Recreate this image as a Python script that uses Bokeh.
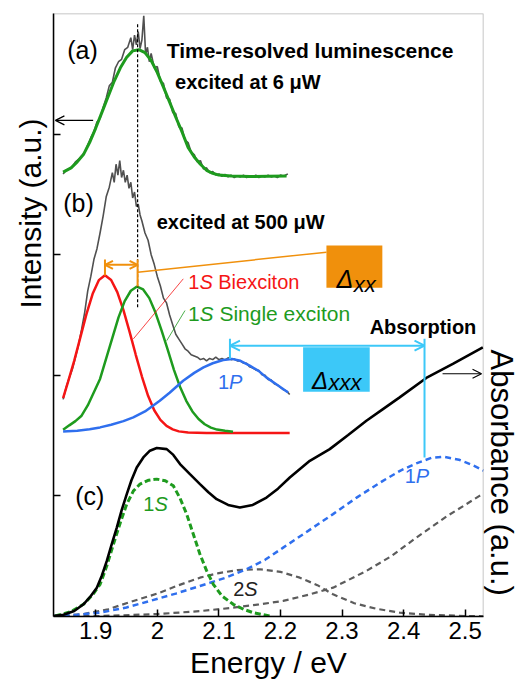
import math
from bokeh.plotting import figure
from bokeh.models import Label, Arrow, OpenHead, BoxAnnotation, Title
from bokeh.embed import file_html
from bokeh.resources import INLINE

# ---------------- data ----------------
x_ticks = [1.9, 2.0, 2.1, 2.2, 2.3, 2.4, 2.5]
y_ticks = [1, 2, 3, 4]

# (a) time-resolved luminescence, 6 uW : raw (noisy) + fit
lum_a_E = [1.847, 1.852, 1.857, 1.862, 1.867, 1.872, 1.877, 1.882, 1.887, 1.892,
           1.897, 1.902, 1.907, 1.912, 1.917, 1.922, 1.927, 1.932, 1.937, 1.942,
           1.947, 1.952, 1.957, 1.960, 1.963, 1.966, 1.969, 1.972, 1.975, 1.978,
           1.981, 1.984, 1.987, 1.990, 1.995, 2.000, 2.005, 2.010, 2.015, 2.020,
           2.025, 2.030, 2.035, 2.040, 2.045, 2.050, 2.055, 2.060, 2.065, 2.070,
           2.075, 2.080, 2.085, 2.090, 2.095, 2.100, 2.105, 2.110, 2.115, 2.120,
           2.125, 2.130, 2.135, 2.140, 2.145, 2.150, 2.155, 2.160, 2.165, 2.170,
           2.175, 2.180, 2.185, 2.190, 2.195, 2.200, 2.205, 2.212]
lum_a_I = [3.67, 3.70, 3.71, 3.73, 3.77, 3.79, 3.82, 3.85, 3.91, 3.97,
           4.02, 4.10, 4.13, 4.22, 4.30, 4.40, 4.43, 4.55, 4.60, 4.62,
           4.70, 4.72, 4.80, 4.70, 4.82, 4.74, 4.85, 4.71, 4.78, 4.98,
           4.66, 4.72, 4.60, 4.67, 4.55, 4.56, 4.44, 4.42, 4.30, 4.29,
           4.18, 4.17, 4.06, 4.05, 3.95, 3.93, 3.85, 3.83, 3.77, 3.78,
           3.71, 3.72, 3.68, 3.69, 3.66, 3.67, 3.65, 3.665, 3.645, 3.66,
           3.64, 3.655, 3.645, 3.66, 3.64, 3.655, 3.645, 3.66, 3.64, 3.655,
           3.645, 3.66, 3.645, 3.655, 3.64, 3.66, 3.65, 3.67]
fit_a_E = [1.847, 1.86, 1.87, 1.88, 1.89, 1.90, 1.91, 1.92, 1.93, 1.94, 1.95, 1.96,
           1.97, 1.98, 1.99, 2.00, 2.01, 2.02, 2.03, 2.04, 2.05, 2.06, 2.07, 2.08,
           2.09, 2.10, 2.12, 2.15, 2.18, 2.21]
fit_a_I = [3.685, 3.72, 3.77, 3.83, 3.93, 4.05, 4.18, 4.31, 4.44, 4.55, 4.635, 4.69,
           4.70, 4.675, 4.61, 4.51, 4.39, 4.265, 4.14, 4.02, 3.89, 3.81, 3.75, 3.70,
           3.675, 3.66, 3.652, 3.648, 3.65, 3.652]

# (b) luminescence, 500 uW : raw + components
lum_b_E = [1.847, 1.852, 1.857, 1.862, 1.867, 1.872, 1.877, 1.882, 1.887, 1.892,
           1.897, 1.902, 1.907, 1.912, 1.917, 1.922, 1.927, 1.930, 1.933, 1.936,
           1.939, 1.942, 1.945, 1.948, 1.951, 1.954, 1.957, 1.960, 1.963, 1.966,
           1.969, 1.972, 1.975, 1.980, 1.985, 1.990, 1.995, 2.000, 2.005, 2.010,
           2.015, 2.020, 2.025, 2.030, 2.035, 2.040, 2.045, 2.050, 2.055, 2.060,
           2.065, 2.070, 2.075, 2.080, 2.085, 2.090, 2.095, 2.100, 2.105, 2.110,
           2.115, 2.120, 2.125, 2.130, 2.135, 2.140, 2.145, 2.150, 2.155, 2.160,
           2.165, 2.170, 2.175, 2.180, 2.185, 2.190, 2.195, 2.200, 2.205, 2.210, 2.215]
lum_b_I = [1.80, 1.90, 1.98, 2.05, 2.15, 2.25, 2.38, 2.52, 2.70, 2.82,
           2.96, 3.05, 3.18, 3.32, 3.48, 3.56, 3.68, 3.60, 3.75, 3.66,
           3.78, 3.64, 3.70, 3.60, 3.66, 3.55, 3.60, 3.47, 3.52, 3.40,
           3.42, 3.33, 3.28, 3.18, 3.12, 3.00, 2.92, 2.82, 2.74, 2.64,
           2.60, 2.50, 2.42, 2.34, 2.30, 2.26, 2.22, 2.20, 2.17, 2.16,
           2.15, 2.13, 2.14, 2.12, 2.14, 2.13, 2.15, 2.13, 2.14, 2.125,
           2.145, 2.13, 2.135, 2.12, 2.12, 2.10, 2.10, 2.07, 2.06, 2.045,
           2.04, 2.005, 2.00, 1.965, 1.96, 1.93, 1.92, 1.90, 1.88, 1.87, 1.84]
biex_E = [1.847, 1.855, 1.865, 1.875, 1.885, 1.895, 1.905, 1.915, 1.925, 1.935,
          1.945, 1.955, 1.965, 1.975, 1.985, 1.995, 2.005, 2.015, 2.025, 2.035,
          2.05, 2.08, 2.12, 2.16, 2.215]
biex_I = [1.81, 1.946, 2.12, 2.315, 2.509, 2.676, 2.789, 2.83, 2.79, 2.69,
          2.54, 2.36, 2.17, 1.99, 1.83, 1.71, 1.63, 1.58, 1.552, 1.535,
          1.526, 1.521, 1.521, 1.521, 1.521]
sx_E = [1.847, 1.857, 1.867, 1.877, 1.887, 1.897, 1.907, 1.917, 1.927, 1.937,
        1.947, 1.957, 1.967, 1.977, 1.987, 1.997, 2.007, 2.017, 2.027, 2.037,
        2.047, 2.057, 2.067, 2.077, 2.087, 2.097, 2.11, 2.123]
sx_I = [1.548, 1.585, 1.62, 1.665, 1.75, 1.86, 1.97, 2.14, 2.31, 2.48,
        2.615, 2.701, 2.736, 2.712, 2.64, 2.52, 2.37, 2.21, 2.045, 1.903,
        1.788, 1.70, 1.637, 1.594, 1.566, 1.55, 1.54, 1.532]
p1_E = [1.847, 1.87, 1.89, 1.907, 1.925, 1.945, 1.961, 1.98, 2.004, 2.02, 2.042,
        2.06, 2.075, 2.09, 2.107, 2.121, 2.135, 2.150, 2.165, 2.177, 2.195, 2.2125]
p1_I = [1.534, 1.54, 1.552, 1.568, 1.59, 1.62, 1.651, 1.70, 1.789, 1.855, 1.955,
        2.02, 2.066, 2.10, 2.127, 2.136, 2.12, 2.080, 2.035, 1.983, 1.92, 1.858]

# (c) absorption + components
abs_E = [1.8314, 1.8476, 1.865, 1.8801, 1.892, 1.9018, 1.91, 1.918, 1.926, 1.9342,
         1.942, 1.9504, 1.958, 1.9666, 1.9773, 1.988, 1.9991, 2.0153, 2.026, 2.0369,
         2.053, 2.0693, 2.083, 2.0964, 2.115, 2.1341, 2.155, 2.1774, 2.196, 2.2152,
         2.2477, 2.2801, 2.31, 2.3396, 2.3665, 2.3936, 2.4369, 2.48, 2.5287]
abs_A = [0.004, 0.015, 0.045, 0.101, 0.17, 0.239, 0.34, 0.461, 0.60, 0.737,
         0.88, 1.015, 1.13, 1.235, 1.319, 1.375, 1.397, 1.388, 1.34, 1.264,
         1.18, 1.098, 1.03, 0.973, 0.925, 0.903, 0.925, 0.986, 1.06, 1.152,
         1.291, 1.388, 1.505, 1.623, 1.72, 1.817, 1.978, 2.094, 2.232]
abs1s_E = [1.8342, 1.86, 1.8801, 1.895, 1.9071, 1.918, 1.9287, 1.94, 1.9504, 1.961,
           1.972, 1.986, 1.9991, 2.013, 2.026, 2.037, 2.0477, 2.058, 2.0693, 2.08,
           2.0909, 2.105, 2.1233, 2.14, 2.1557, 2.1828]
abs1s_A = [0.004, 0.04, 0.101, 0.18, 0.267, 0.42, 0.599, 0.78, 0.932, 1.04,
           1.098, 1.13, 1.139, 1.125, 1.084, 0.98, 0.849, 0.69, 0.516, 0.38,
           0.267, 0.17, 0.101, 0.06, 0.032, 0.004]
abs1p_E = [1.8314, 1.87, 1.9071, 1.95, 1.9882, 2.03, 2.0693, 2.11, 2.145, 2.175,
           2.2044, 2.245, 2.2854, 2.325, 2.3665, 2.395, 2.4207, 2.445, 2.465, 2.49,
           2.51, 2.5298]
abs1p_A = [0.004, 0.015, 0.032, 0.075, 0.129, 0.19, 0.253, 0.32, 0.392, 0.47,
           0.571, 0.71, 0.849, 0.99, 1.125, 1.21, 1.27, 1.315, 1.325, 1.30,
           1.26, 1.21]
abs2s_E = [1.8314, 1.88, 1.92, 1.9611, 2.00, 2.035, 2.0693, 2.10, 2.13, 2.1666,
           2.20, 2.2314, 2.26, 2.2854, 2.32, 2.355, 2.3936, 2.44, 2.5018, 2.5298]
abs2s_A = [0.004, 0.02, 0.06, 0.129, 0.19, 0.26, 0.322, 0.36, 0.385, 0.392,
           0.37, 0.322, 0.26, 0.184, 0.11, 0.065, 0.032, 0.014, 0.004, 0.002]
abshi_E = [1.8314, 1.9071, 2.0, 2.07, 2.1233, 2.165, 2.2044, 2.245, 2.2854, 2.3396,
           2.38, 2.4207, 2.47, 2.5233, 2.5298]
abshi_A = [0.0, 0.004, 0.02, 0.045, 0.073, 0.10, 0.129, 0.18, 0.239, 0.378,
           0.50, 0.654, 0.83, 1.0, 1.02]

# ---------------- styles ----------------
FONT = "Liberation Sans"
GREEN = "#1e9b1e"
RED = "#f51515"
BLUE = "#2f6fee"
GRAY = "#505050"
DGRAY = "#5c5c5c"
ORANGE = "#f0900c"
CYAN = "#3cc8f8"

p = figure(width=520, height=684, x_range=(1.8314, 2.5298), y_range=(0, 5.0),
           output_backend="svg", toolbar_location=None,
           min_border_left=53, min_border_right=36, min_border_top=13, min_border_bottom=68)
p.grid.visible = False
p.outline_line_color = None
p.background_fill_color = "white"
p.border_fill_color = "white"

p.xaxis.ticker = x_ticks
p.yaxis.ticker = y_ticks
for ax in (p.xaxis, p.yaxis):
    ax.axis_line_width = 1.5
    ax.major_tick_line_width = 1.5
    ax.major_tick_in = 7
    ax.major_tick_out = 0
    ax.minor_tick_line_color = None
p.xaxis.major_label_text_font = FONT
p.xaxis.major_label_text_font_size = "24px"
p.xaxis.major_label_text_color = "black"
p.xaxis.major_label_standoff = 5
p.yaxis.major_label_overrides = {t: "" for t in y_ticks}
p.yaxis.major_label_standoff = 0


# axis titles as side titles
def side_title(text, place, align, offset, standoff, size):
    t = Title(text=text, text_font=FONT, text_font_size=f"{size}px",
              text_font_style="normal", text_color="black", align=align,
              offset=offset, standoff=standoff)
    p.add_layout(t, place)


side_title("Intensity (a.u.)", "left", "left", 308, 14, 30)
side_title("Absorbance (a.u.)", "right", "left", 336, 0, 31)
side_title("Energy / eV", "below", "center", 0, 5, 30)

# frame box
p.add_layout(BoxAnnotation(fill_alpha=0, line_color="black", line_width=1.5))

# ---- panel (a)
p.line(lum_a_E, lum_a_I, line_color=GRAY, line_width=1.6)
p.line(fit_a_E, fit_a_I, line_color=GREEN, line_width=3)
# ---- panel (b)
p.line(lum_b_E, lum_b_I, line_color=GRAY, line_width=1.6)
p.line(biex_E, biex_I, line_color=RED, line_width=2.5)
p.line(sx_E, sx_I, line_color=GREEN, line_width=2.5)
p.line(p1_E, p1_I, line_color=BLUE, line_width=2.5)
# ---- panel (c)
p.line(abshi_E, abshi_A, line_color=DGRAY, line_width=2.2, line_dash="6 4")
p.line(abs2s_E, abs2s_A, line_color=DGRAY, line_width=2.2, line_dash="6 4")
p.line(abs1p_E, abs1p_A, line_color=BLUE, line_width=2.5, line_dash="6 4")
p.line(abs1s_E, abs1s_A, line_color=GREEN, line_width=3, line_dash="6 3")
p.line(abs_E, abs_A, line_color="black", line_width=2.6)

# ---- annotations
p.line([1.968, 1.968], [4.91, 2.56], line_color="black", line_width=1.2, line_dash="3 2")

# orange Delta_xx
p.add_layout(BoxAnnotation(left=2.2747, right=2.3655, bottom=2.725, top=3.076,
                           fill_color=ORANGE, fill_alpha=1.0, line_color=None))
p.line([1.915, 1.915], [2.96, 2.827], line_color=ORANGE, line_width=2)
p.line([1.968, 1.968], [2.96, 2.736], line_color=ORANGE, line_width=2)
p.line([1.968, 2.2747], [2.855, 3.021], line_color=ORANGE, line_width=1.5)
p.add_layout(Arrow(start=OpenHead(size=8, line_color=ORANGE, line_width=2),
                   end=OpenHead(size=8, line_color=ORANGE, line_width=2),
                   x_start=1.915, y_start=2.916, x_end=1.968, y_end=2.916,
                   line_color=ORANGE, line_width=2))

# cyan Delta_xxx
p.add_layout(BoxAnnotation(left=2.2368, right=2.3450, bottom=1.864, top=2.232,
                           fill_color=CYAN, fill_alpha=1.0, line_color=None))
p.line([2.118, 2.118], [2.304, 2.136], line_color=CYAN, line_width=2)
p.line([2.434, 2.434], [2.304, 1.319], line_color=CYAN, line_width=2)
p.add_layout(Arrow(start=OpenHead(size=10, line_color=CYAN, line_width=2),
                   end=OpenHead(size=10, line_color=CYAN, line_width=2),
                   x_start=2.118, y_start=2.246, x_end=2.434, y_end=2.246,
                   line_color=CYAN, line_width=2))

# pointer lines to labels
p.line([1.9611, 2.0422], [2.302, 2.80], line_color=RED, line_width=0.8)
p.line([2.0153, 2.045], [2.287, 2.537], line_color=GREEN, line_width=0.8)

# axis side arrows
p.add_layout(Arrow(end=OpenHead(size=9, line_color="black", line_width=1.2),
                   x_start=1.8958, y_start=4.114, x_end=1.8345, y_end=4.114,
                   line_color="black", line_width=1.2))
p.add_layout(Arrow(end=OpenHead(size=9, line_color="black", line_width=1.2),
                   x_start=2.4633, y_start=2.013, x_end=2.5266, y_end=2.013,
                   line_color="black", line_width=1.2))


def lab(x, y, text, size, color="black", style="normal", align="left",
        baseline="middle", xo=0, angle=0.0):
    p.add_layout(Label(x=x, y=y, text=text, text_font=FONT,
                       text_font_size=f"{size}px", text_font_style=style,
                       text_color=color, text_align=align, text_baseline=baseline,
                       x_offset=xo, angle=angle))


lab(1.8536, 4.695, "(a)", 25)
lab(1.8471, 3.425, "(b)", 25)
lab(1.8666, 1.00, "(c)", 25)
lab(2.0153, 4.695, "Time-resolved luminescence", 21, style="bold")
lab(2.0288, 4.432, "excited at 6 \u03bcW", 20, style="bold")
lab(1.9991, 3.270, "excited at 500 \u03bcW", 20, style="bold")
lab(2.3449, 2.398, "Absorption", 20, style="bold")

# 1S Biexciton
lab(2.0503, 2.772, "1", 20, color=RED)
lab(2.0503, 2.772, "S", 20, color=RED, style="italic", xo=11.1)
lab(2.0503, 2.772, "Biexciton", 20, color=RED, xo=30.0)
# 1S Single exciton
lab(2.0497, 2.509, "1", 21, color=GREEN)
lab(2.0497, 2.509, "S", 21, color=GREEN, style="italic", xo=11.7)
lab(2.0497, 2.509, "Single exciton", 21, color=GREEN, xo=31.5)
# 1P (b)
lab(2.0985, 1.947, "1", 20, color=BLUE)
lab(2.0985, 1.947, "P", 20, color=BLUE, style="italic", xo=11.1)
# (c) labels
lab(1.9773, 0.932, "1", 20, color=GREEN)
lab(1.9773, 0.932, "S", 20, color=GREEN, style="italic", xo=11.1)
lab(2.1233, 0.231, "2", 20, color="#222222")
lab(2.1233, 0.231, "S", 20, color="#222222", style="italic", xo=11.1)
lab(2.4017, 1.167, "1", 20, color=BLUE)
lab(2.4017, 1.167, "P", 20, color=BLUE, style="italic", xo=11.1)

# Delta labels
lab(2.291, 2.80, "\u0394", 25, style="italic", baseline="alphabetic")
lab(2.3190, 2.752, "xx", 22, style="italic", baseline="alphabetic")
lab(2.2514, 1.955, "\u0394", 24, style="italic", baseline="alphabetic")
lab(2.2780, 1.943, "xxx", 22, style="italic", baseline="alphabetic")

open("out.html", "w").write(file_html(p, INLINE))
